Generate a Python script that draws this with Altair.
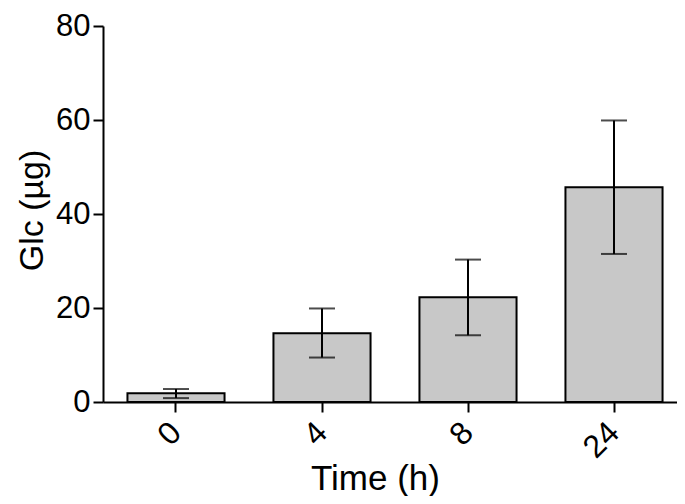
import altair as alt
import pandas as pd

times = ["0", "4", "8", "24"]
means = [1.87, 14.65, 22.3, 45.7]
err_low = [0.83, 9.46, 14.2, 31.5]
err_high = [2.76, 19.9, 30.3, 59.9]
y_ticks = [0, 20, 40, 60, 80]

df = pd.DataFrame({"time": times, "mean": means, "lo": err_low, "hi": err_high})

FONT = "Liberation Sans"

x_enc = alt.X(
    "time:N",
    sort=times,
    scale=alt.Scale(range=[0, 584], paddingInner=0.335, paddingOuter=0.1675),
    axis=alt.Axis(
        title="Time (h)",
        labelAngle=-45,
        labelAlign="right",
        labelBaseline="middle",
        labelPadding=15,
        labelFontSize=32,
        labelFont=FONT,
        labelColor="black",
        tickSize=10,
        tickWidth=2,
        tickColor="black",
        domainColor="black",
        domainWidth=2,
        titleFont=FONT,
        titleFontSize=35,
        titleFontWeight="normal",
        titleColor="black",
        titleX=272,
        titleY=87,
        titleAlign="center",
        titleBaseline="alphabetic",
        titleAnchor="start",
    ),
)

y_scale = alt.Scale(domain=[0, 80], nice=False)

bars = alt.Chart(df).mark_bar(
    color="#c8c8c8", stroke="black", strokeWidth=2
).encode(
    x=x_enc,
    y=alt.Y(
        "mean:Q",
        scale=y_scale,
        axis=alt.Axis(
            title="Glc (µg)",
            values=y_ticks,
            grid=False,
            labelFontSize=31,
            labelFont=FONT,
            labelColor="black",
            labelPadding=3,
            tickSize=10,
            tickWidth=2,
            tickColor="black",
            domainColor="black",
            domainWidth=2,
            titleFont=FONT,
            titleFontSize=34,
            titleFontWeight="normal",
            titleColor="black",
            titleX=-61,
            titleBaseline="alphabetic",
            titleAngle=-90,
            titleY=184,
            titleAlign="center",
            titleAnchor="start",
        ),
    ),
)

rules = alt.Chart(df).mark_rule(color="black", strokeWidth=2).encode(
    x=alt.X("time:N", sort=times),
    y=alt.Y("lo:Q", scale=y_scale),
    y2="hi:Q",
)

caps_lo = alt.Chart(df).mark_tick(
    color="black", thickness=2, size=26, orient="horizontal"
).encode(x=alt.X("time:N", sort=times), y=alt.Y("lo:Q", scale=y_scale))

caps_hi = alt.Chart(df).mark_tick(
    color="black", thickness=2, size=26, orient="horizontal"
).encode(x=alt.X("time:N", sort=times), y=alt.Y("hi:Q", scale=y_scale))

chart = (
    alt.layer(bars, rules, caps_lo, caps_hi)
    .properties(
        width=574,
        height=376,
        autosize=alt.AutoSizeParams(type="none"),
        padding={"left": 95, "top": 18, "right": 0, "bottom": 94},
        background="white",
    )
    .configure_view(stroke=None)
)

chart.save("out.html", embed_options={"renderer": "svg", "actions": False})
